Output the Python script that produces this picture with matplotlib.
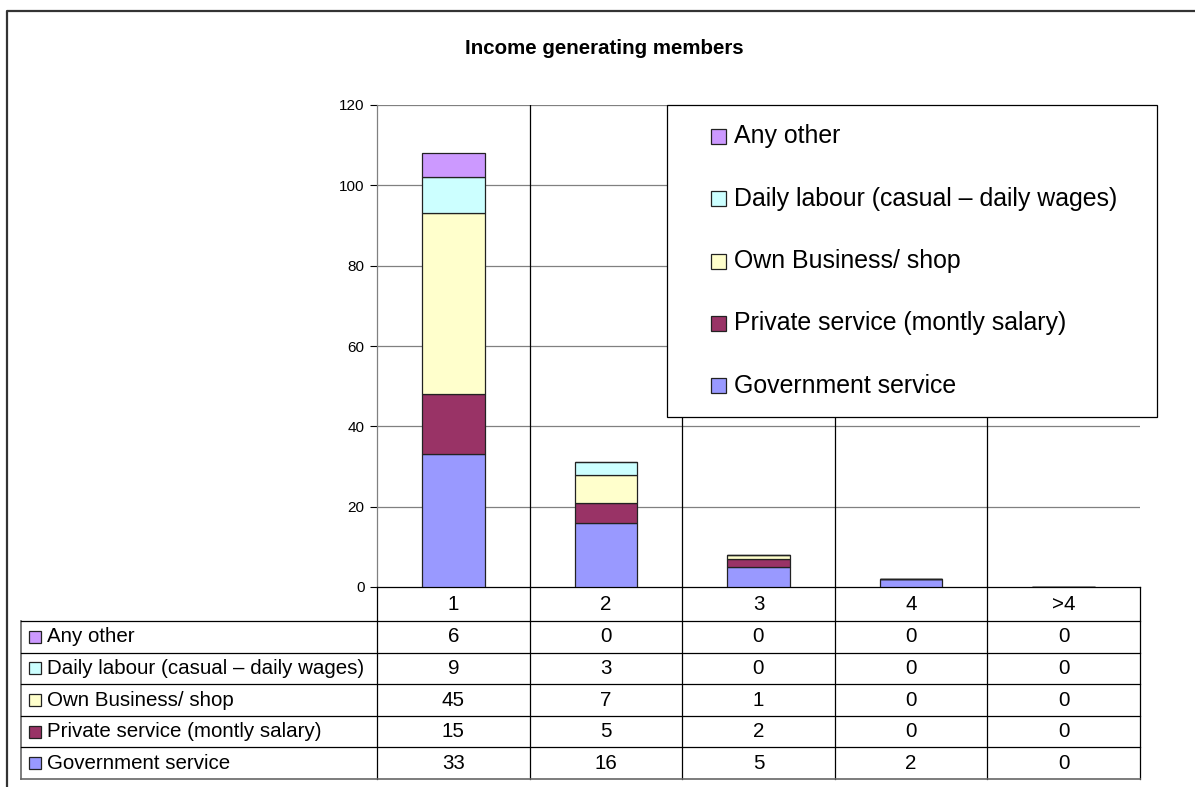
import matplotlib
matplotlib.use("Agg")
import matplotlib.pyplot as plt
from matplotlib.patches import Rectangle
from matplotlib.lines import Line2D

plt.rcParams['font.family'] = ['Liberation Sans', 'DejaVu Sans']

title = "Income generating members"
categories = ["1", "2", "3", "4", ">4"]
series_names = ["Government service", "Private service (montly salary)",
                "Own Business/ shop", "Daily labour (casual \u2013 daily wages)", "Any other"]
government = [33, 16, 5, 2, 0]
private = [15, 5, 2, 0, 0]
own_business = [45, 7, 1, 0, 0]
daily_labour = [9, 3, 0, 0, 0]
any_other = [6, 0, 0, 0, 0]
colors = ["#9999FF", "#993366", "#FFFFCC", "#CCFFFF", "#CC99FF"]

series = [government, private, own_business, daily_labour, any_other]

W, H = 1195, 787
fig = plt.figure(figsize=(W / 100, H / 100), dpi=100)

# plot area in pixels
px_l, px_r, px_t, px_b = 377, 1140, 105, 587
ax = fig.add_axes([px_l / W, 1 - px_b / H, (px_r - px_l) / W, (px_b - px_t) / H])

x = list(range(len(categories)))
bottom = [0] * len(categories)
for vals, c in zip(series, colors):
    ax.bar(x, vals, width=0.41, bottom=bottom, color=c, edgecolor="#222222",
           linewidth=0.9, zorder=3)
    bottom = [b + v for b, v in zip(bottom, vals)]

ax.set_xlim(-0.5, len(categories) - 0.5)
ax.set_ylim(0, 120)
ax.set_yticks(range(0, 121, 20))
ax.set_xticks([])
ax.tick_params(axis='y', direction='out', length=5, width=0.8, labelsize=11, pad=4)
for yv in range(20, 121, 20):
    ax.axhline(yv, color="#808080", linewidth=0.9, zorder=1)
for xv in range(1, len(categories)):
    ax.axvline(xv - 0.5, color="black", linewidth=0.9, zorder=1)
for side in ["top", "right"]:
    ax.spines[side].set_visible(False)
ax.spines["left"].set_color("#808080")
ax.spines["bottom"].set_color("black")
ax.spines["left"].set_linewidth(0.9)
ax.spines["bottom"].set_linewidth(0.9)

# overlay in pixel coordinates for title, legend, data table and frame
ov = fig.add_axes([0, 0, 1, 1], zorder=5)
ov.set_xlim(0, W)
ov.set_ylim(H, 0)
ov.axis("off")
ov.patch.set_alpha(0)

# chart frame
ov.add_line(Line2D([7, 7, W + 5], [H + 5, 11, 11], color="#333333", linewidth=1.6))

ov.text(604, 48, title, ha="center", va="center", fontsize=14.8, fontweight="bold")

# legend box
lg_l, lg_r, lg_t, lg_b = 667, 1157, 105, 417
ov.add_patch(Rectangle((lg_l, lg_t), lg_r - lg_l, lg_b - lg_t, facecolor="white",
                       edgecolor="black", linewidth=0.9))
row_h = (lg_b - lg_t) / len(series_names)
for i, (name, c) in enumerate(zip(series_names[::-1], colors[::-1])):
    yc = lg_t + row_h * (i + 0.5)
    ov.add_patch(Rectangle((711, yc - 7.5), 15, 15, facecolor=c, edgecolor="#222222", linewidth=0.9))
    ov.text(734, yc, name, ha="left", va="center", fontsize=17.9)

# data table
col_w = (px_r - px_l) / len(categories)
hdr_b = 621
tab_l = 21
tab_b = 779
rows = len(series_names)
rh = (tab_b - hdr_b) / rows
lk = dict(color="black", linewidth=0.9)
for j in range(len(categories) + 1):
    xx = px_l + j * col_w
    ov.add_line(Line2D([xx, xx], [px_b, tab_b], **lk))
ov.add_line(Line2D([tab_l, tab_l], [hdr_b, tab_b], color="#666666", linewidth=1.2))
for i in range(rows + 1):
    yy = hdr_b + i * rh
    ov.add_line(Line2D([tab_l, px_r], [yy, yy], color="#666666" if i == rows else "black",
                       linewidth=1.2 if i == rows else 0.9))
for j, cat in enumerate(categories):
    ov.text(px_l + (j + 0.5) * col_w, (px_b + hdr_b) / 2, cat, ha="center", va="center", fontsize=14.8)
for i, (name, vals, c) in enumerate(zip(series_names[::-1], series[::-1], colors[::-1])):
    yc = hdr_b + (i + 0.5) * rh
    ov.add_patch(Rectangle((29, yc - 6), 12, 12, facecolor=c, edgecolor="#222222", linewidth=0.9))
    ov.text(47, yc, name, ha="left", va="center", fontsize=14.8)
    for j, v in enumerate(vals):
        ov.text(px_l + (j + 0.5) * col_w, yc, str(v), ha="center", va="center", fontsize=14.8)

fig.savefig("out.png", dpi=100)
